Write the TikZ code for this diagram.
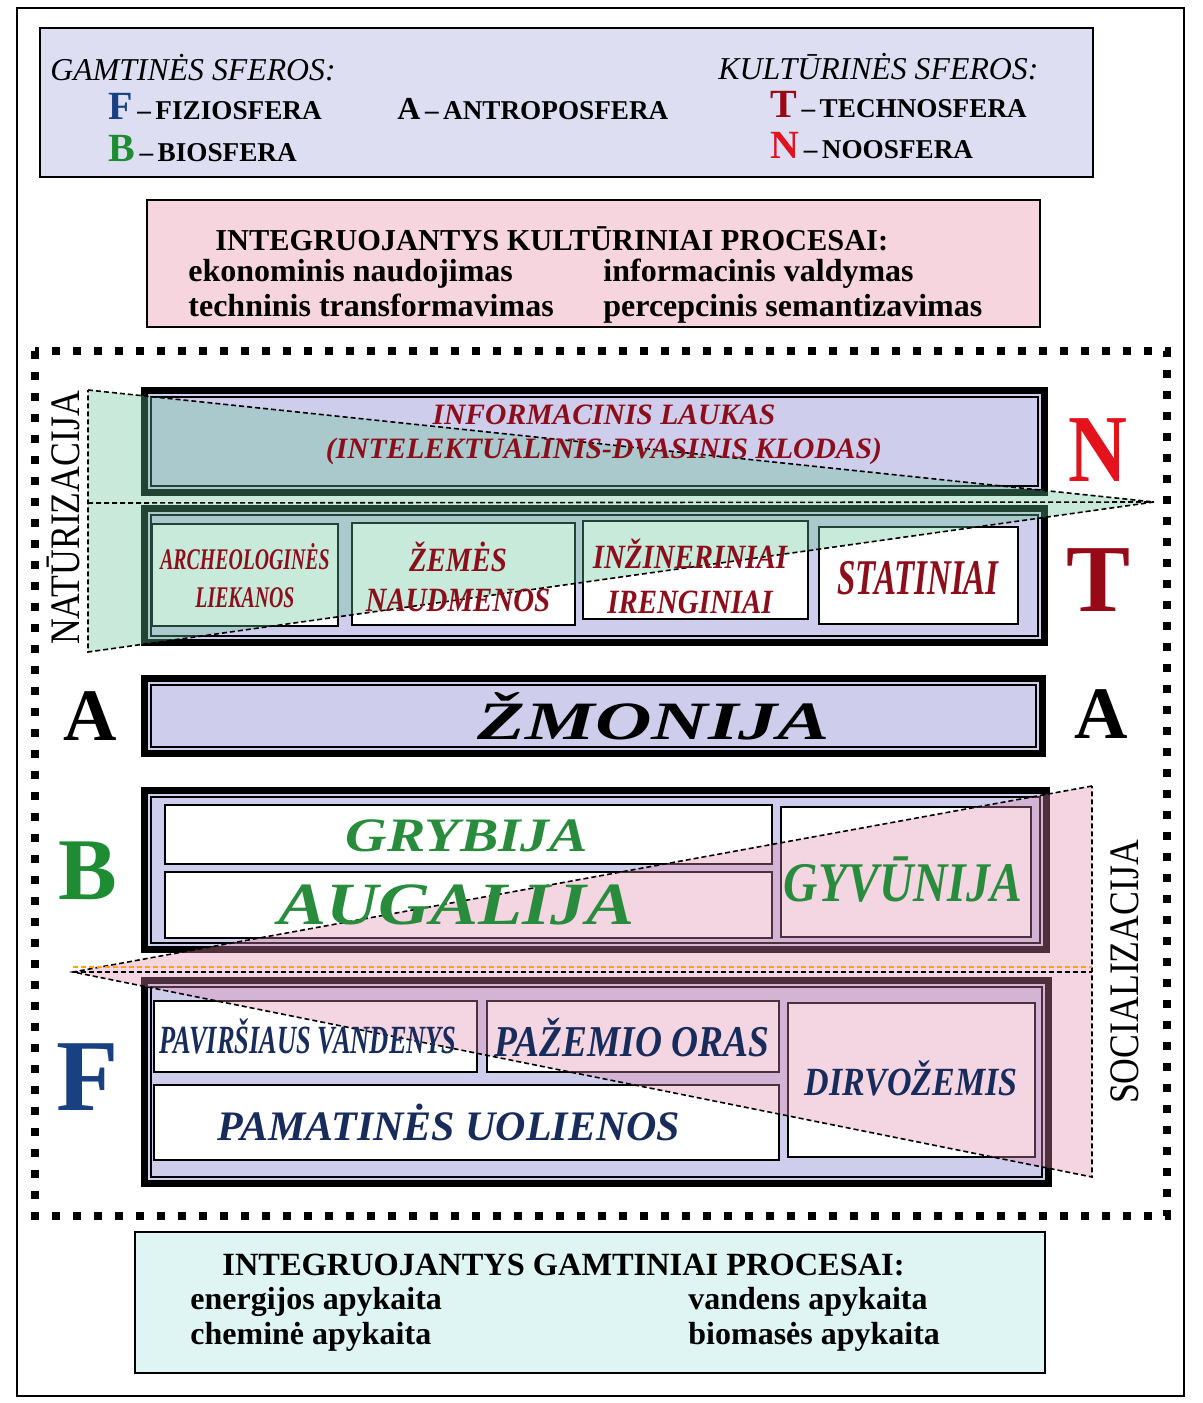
\documentclass[tikz,border=0pt]{standalone}
\usepackage{fontspec}
\usepackage{pdfrender}
\setmainfont{Liberation Serif}
\newfontfamily\narrowfont[FakeStretch=0.66]{Liberation Serif}
\newfontfamily\slimfont[FakeStretch=0.85]{Liberation Serif}
\newfontfamily\broadfont[FakeStretch=1.2]{Liberation Serif}
\newfontfamily\widefont[FakeStretch=1.45]{Liberation Serif}
\usetikzlibrary{positioning}

\definecolor{lavfill}{RGB}{222,222,242}
\definecolor{pinkfill}{RGB}{246,213,222}
\definecolor{cyanfill}{RGB}{222,245,243}
\definecolor{layerfill}{RGB}{206,205,236}
\definecolor{natfill}{RGB}{100,195,150}
\definecolor{socfill}{RGB}{225,135,172}
\definecolor{nred}{RGB}{228,18,28}
\definecolor{tred}{RGB}{150,10,24}
\definecolor{bgreen}{RGB}{30,140,50}
\definecolor{fblue}{RGB}{25,65,130}
\definecolor{celred}{RGB}{140,14,26}
\definecolor{celgreen}{RGB}{40,140,60}
\definecolor{celblue}{RGB}{24,44,92}

\newcommand{\inkedge}{\pdfrender{TextRenderingMode=FillStroke,LineWidth=0.55pt,StrokeColor=black}}

\begin{document}
\begin{tikzpicture}[x=0.5pt, y=-0.5pt,
    every node/.style={inner sep=0pt},
    legendbox/.style={draw=black, line width=0.8pt},
    outerframe/.style={line width=3.5pt},
    innerframe/.style={line width=0.8pt},
    cell/.style={draw=black, fill=white, line width=0.8pt},
    thindash/.style={dash pattern=on 2.5pt off 1.5pt, line width=0.8pt},
    bigdot/.style={line width=4pt, dash pattern=on 4pt off 6.5pt},
    lbl/.style={align=center, font=\bfseries\itshape}]
  \useasboundingbox (0,0) rectangle (1203,1403);
  \draw[line width=0.8pt] (17,8) rectangle (1184,1396);

  % legend
  \draw[legendbox, fill=lavfill] (40,28) rectangle (1093,177);
  \node[anchor=base west, font=\itshape\fontsize{15.9}{16}\selectfont] (gamt) at (50,80) {GAMTINĖS SFEROS:};
  \node[anchor=base west, font=\itshape\fontsize{15.9}{16}\selectfont] (kult) at (718,79) {KULTŪRINĖS SFEROS:};
  \node[anchor=base west, font=\bfseries\fontsize{13.6}{14}\selectfont] (legF) at (108,119)
    {\textcolor{fblue}{\fontsize{20}{20}\selectfont F}\,--\,FIZIOSFERA};
  \node[anchor=base west, font=\bfseries\fontsize{13.6}{14}\selectfont] (legA) at (397,119)
    {{\fontsize{16}{16}\selectfont A}\,--\,ANTROPOSFERA};
  \node[anchor=base west, font=\bfseries\fontsize{13.6}{14}\selectfont] (legT) at (770,117)
    {\textcolor{tred}{\fontsize{20}{20}\selectfont T}\,--\,TECHNOSFERA};
  \node[anchor=base west, font=\bfseries\fontsize{13.6}{14}\selectfont] (legB) at (108,161)
    {\textcolor{bgreen}{\fontsize{20}{20}\selectfont B}\,--\,BIOSFERA};
  \node[anchor=base west, font=\bfseries\fontsize{13.6}{14}\selectfont] (legN) at (770,158)
    {\textcolor{nred}{\fontsize{20}{20}\selectfont N}\,--\,NOOSFERA};

  % cultural processes
  \draw[legendbox, fill=pinkfill] (147,200) rectangle (1040,327);
  \node[anchor=base west, font=\bfseries\fontsize{15.2}{16}\selectfont] (kproc) at (215,250) {INTEGRUOJANTYS KULTŪRINIAI PROCESAI:};
  \node[anchor=base west, font=\bfseries\fontsize{16}{16}\selectfont] (ekon) at (188,281) {ekonominis naudojimas};
  \node[anchor=base west, font=\bfseries\fontsize{16}{16}\selectfont] (info) at (603,281) {informacinis valdymas};
  \node[anchor=base west, font=\bfseries\fontsize{16}{16}\selectfont] (tech) at (188,316) {techninis transformavimas};
  \node[anchor=base west, font=\bfseries\fontsize{16}{16}\selectfont] (perc) at (603,316) {percepcinis semantizavimas};

  % natural processes
  \draw[legendbox, fill=cyanfill] (135,1232) rectangle (1045,1373);
  \node[anchor=base west, font=\bfseries\fontsize{16.2}{17}\selectfont] (gproc) at (222,1275) {INTEGRUOJANTYS GAMTINIAI PROCESAI:};
  \node[anchor=base west, font=\bfseries\fontsize{16}{16}\selectfont] (ener) at (190,1309) {energijos apykaita};
  \node[anchor=base west, font=\bfseries\fontsize{16}{16}\selectfont] (vand) at (688,1309) {vandens apykaita};
  \node[anchor=base west, font=\bfseries\fontsize{16}{16}\selectfont] (chem) at (190,1344) {cheminė apykaita};
  \node[anchor=base west, font=\bfseries\fontsize{16}{16}\selectfont] (biom) at (688,1344) {biomasės apykaita};

  % layers
  \foreach \xa/\ya/\xb/\yb in {141/387/1048/496, 141/505/1048/646, 141/675/1046/757,
      141/787/1050/953, 141/977/1052/1187} {
    \fill[layerfill] (\xa,\ya) rectangle (\xb,\yb);
    \draw[outerframe] (\xa+3.5,\ya+3.5) rectangle (\xb-3.5,\yb-3.5);
    \draw[innerframe] (\xa+10,\ya+10) rectangle (\xb-10,\yb-10);
  }
  \foreach \xa/\ya/\xb/\yb in {152/524/338/626, 352/523/575/625, 583/521/808/619, 819/527/1018/624,
      165/805/772/864, 165/872/772/938, 781/807/1031/937,
      154/1001/477/1072, 487/1001/779/1072, 788/1003/1035/1157, 154/1085/779/1160}
    \draw[cell] (\xa,\ya) rectangle (\xb,\yb);

  % naturizacija
  \coordinate (natA) at (88,390);
  \coordinate (natB) at (88,652);
  \coordinate (natC) at (1154,502);
  \coordinate (natM) at (88,503);
  \fill[natfill, opacity=0.35] (natA) -- (natC) -- (natB) -- cycle;
  \draw[thindash] (natA) -- (natC) -- (natB) -- cycle;
  \draw[thindash] (natM) -- (natC);

  % socializacija
  \coordinate (socA) at (1092,786);
  \coordinate (socB) at (1092,1177);
  \coordinate (socC) at (73,972);
  \coordinate (socM) at (1092,972);
  \fill[socfill, opacity=0.35] (socA) -- (socC) -- (socB) -- cycle;
  \draw[thindash] (socA) -- (socC) -- (socB) -- cycle;
  \draw[thindash, draw=orange!70!yellow] (73,967) -- (1092,967);
  \draw[thindash] (socC) -- (socM);

  % layer texts
  \node[lbl, text=celred, font=\bfseries\itshape\fontsize{14.8}{17}\selectfont] (laukas) at (604,435)
    {\inkedge INFORMACINIS LAUKAS\\(INTELEKTUALINIS-DVASINIS KLODAS)};
  \node[lbl, text=celred, font=\narrowfont\bfseries\itshape\fontsize{15}{19}\selectfont] (arch) at (245,576)
    {\inkedge ARCHEOLOGINĖS\\LIEKANOS};
  \node[lbl, text=celred, font=\slimfont\bfseries\itshape\fontsize{17}{20}\selectfont] (zemes) at (458,577)
    {\inkedge ŽEMĖS\\NAUDMENOS};
  \node[lbl, text=celred, font=\slimfont\bfseries\itshape\fontsize{17}{22.5}\selectfont] (inz) at (690,576)
    {\inkedge INŽINERINIAI\\IRENGINIAI};
  \node[lbl, text=celred, font=\narrowfont\bfseries\itshape\fontsize{25}{25}\selectfont] (stat) at (918,578)
    {\inkedge STATINIAI};
  \node[lbl, text=black, font=\widefont\bfseries\itshape\fontsize{27}{27}\selectfont] (zmon) at (654,716)
    {\inkedge ŽMONIJA};
  \node[lbl, text=celgreen, font=\broadfont\bfseries\itshape\fontsize{24}{24}\selectfont] (gryb) at (467,836)
    {\inkedge GRYBIJA};
  \node[lbl, text=celgreen, font=\broadfont\bfseries\itshape\fontsize{30}{30}\selectfont] (aug) at (457,905)
    {\inkedge AUGALIJA};
  \node[lbl, text=celgreen, font=\slimfont\bfseries\itshape\fontsize{28}{28}\selectfont] (gyv) at (903,880)
    {\inkedge GYVŪNIJA};
  \node[lbl, text=celblue, font=\narrowfont\bfseries\itshape\fontsize{20}{20}\selectfont] (pav) at (308,1036)
    {\inkedge PAVIRŠIAUS VANDENYS};
  \node[lbl, text=celblue, font=\slimfont\bfseries\itshape\fontsize{22}{22}\selectfont] (paz) at (632,1038)
    {\inkedge PAŽEMIO ORAS};
  \node[lbl, text=celblue, font=\slimfont\bfseries\itshape\fontsize{20}{20}\selectfont] (dirv) at (911,1078)
    {\inkedge DIRVOŽEMIS};
  \node[lbl, text=celblue, font=\bfseries\itshape\fontsize{21}{21}\selectfont] (pam) at (449,1122)
    {\inkedge PAMATINĖS UOLIENOS};

  % sphere letters
  \node[text=nred, font=\slimfont\bfseries\fontsize{48}{48}\selectfont] (sfN) at (1098,450) {\inkedge N};
  \node[text=tred, font=\bfseries\fontsize{48}{48}\selectfont] (sfT) at (1099,580) {\inkedge T};
  \node[font=\bfseries\fontsize{37}{37}\selectfont] (sfAl) at (90,716) {A};
  \node[font=\bfseries\fontsize{37}{37}\selectfont] (sfAr) at (1101,714) {A};
  \node[text=bgreen, font=\bfseries\fontsize{44}{44}\selectfont] (sfB) at (88,871) {\inkedge B};
  \node[text=fblue, font=\bfseries\fontsize{51}{51}\selectfont] (sfF) at (88,1077) {\inkedge F};

  % side labels
  \node[rotate=90, font=\slimfont\fontsize{21}{21}\selectfont] (natlbl) at (63,518) {NATŪRIZACIJA};
  \node[rotate=90, font=\slimfont\fontsize{21}{21}\selectfont] (soclbl) at (1125,972) {SOCIALIZACIJA};

  \draw[bigdot] (35,351) rectangle (1167,1216);
\end{tikzpicture}
\end{document}
